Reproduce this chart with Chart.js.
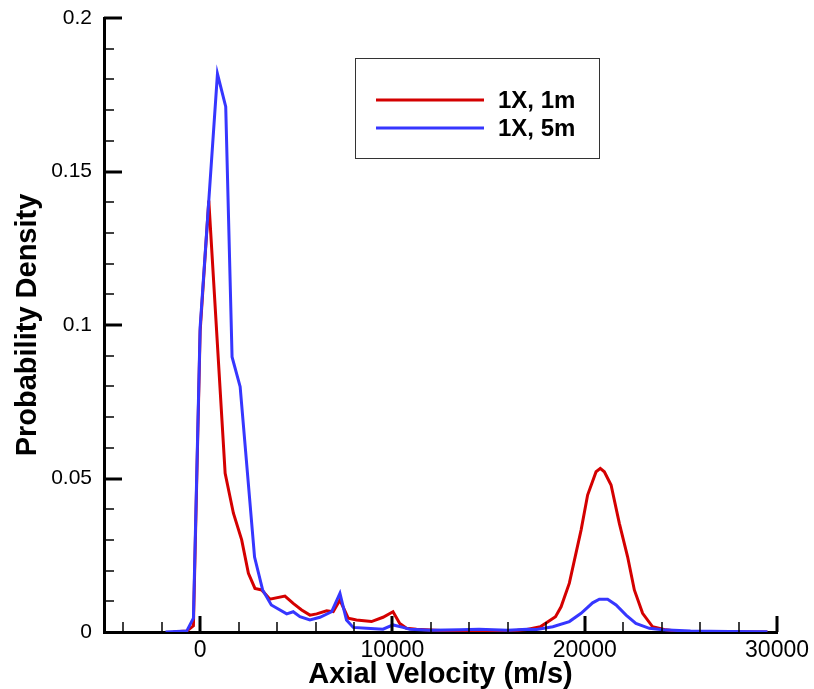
<!DOCTYPE html>
<html><head><meta charset="utf-8">
<script src="https://cdn.jsdelivr.net/npm/chart.js@4/dist/chart.umd.min.js"></script>
<style>html,body{margin:0;padding:0;background:#fff;}#wrap{width:814px;height:689px;}</style>
</head><body><div id="wrap"><canvas id="c" width="814" height="689"></canvas></div>
<script>
const seriesLabels = ['1X, 1m', '1X, 5m'];
const xTitle = 'Axial Velocity (m/s)';
const yTitle = 'Probability Density';

const redX = [-1400, -700, -350, 0, 450, 1300, 1730, 2160, 2510, 2850, 3200, 3630, 4410, 4840, 5280, 5710, 6060, 6580, 6920, 7270, 7700, 8130, 8910, 9510, 10030, 10380, 10730, 11250, 12500, 14000, 15500, 16500, 17000, 17690, 18480, 18770, 19200, 19810, 20150, 20590, 20810, 21020, 21370, 21800, 22230, 22580, 23010, 23530, 24220, 24910, 26000, 27500, 29500];
const redY = [0, 0.0003, 0.002, 0.098, 0.1405, 0.0517, 0.0387, 0.030, 0.0191, 0.0142, 0.0137, 0.0107, 0.0117, 0.0093, 0.0072, 0.0055, 0.0059, 0.0069, 0.0066, 0.0104, 0.0045, 0.0039, 0.0034, 0.0048, 0.0066, 0.0028, 0.0012, 0.0009, 0.0005, 0.0004, 0.0005, 0.0006, 0.0008, 0.0017, 0.005, 0.0082, 0.0159, 0.0332, 0.0446, 0.0522, 0.0533, 0.0522, 0.0479, 0.0354, 0.0245, 0.0137, 0.0061, 0.0017, 0.0007, 0.0002, 0.0001, 0.0001, 0];

const blueX = [-1800, -700, -350, 0, 900, 1330, 1660, 2080, 2830, 3250, 3700, 4500, 4840, 5190, 5710, 6230, 6840, 7270, 7610, 7960, 8650, 9510, 10030, 10550, 10900, 12000, 13500, 14500, 16000, 17000, 17500, 18340, 19200, 19810, 20410, 20760, 21190, 21630, 22150, 22660, 23360, 24050, 25500, 27500, 29500];
const blueY = [0, 0.0003, 0.0045, 0.0993, 0.1818, 0.1711, 0.0896, 0.0799, 0.0244, 0.0137, 0.0088, 0.0059, 0.0066, 0.005, 0.0039, 0.0048, 0.0066, 0.0126, 0.0039, 0.0015, 0.0012, 0.0009, 0.0023, 0.0015, 0.0009, 0.0006, 0.0007, 0.0009, 0.0006, 0.0009, 0.0008, 0.0017, 0.0034, 0.0061, 0.0095, 0.0107, 0.0107, 0.0088, 0.0055, 0.0028, 0.0012, 0.0007, 0.0003, 0.0002, 0.0001];

const xMajorTicks = [0, 10000, 20000, 30000];
const yMajorTicks = [0, 0.05, 0.1, 0.15, 0.2];
const xMinorStep = 2000;
const yMinorStep = 0.01;

const RED = '#d40000';
const BLUE = '#3636ff';
const FONT = "'Liberation Sans', Arial, Helvetica, sans-serif";

function pts(xs, ys) { return xs.map((x, i) => ({x: x, y: ys[i]})); }

const tickPlugin = {
  id: 'inwardTicks',
  afterDraw(chart) {
    const ctx = chart.ctx, xs = chart.scales.x, ys = chart.scales.y;
    const a = chart.chartArea;
    ctx.save();
    ctx.strokeStyle = '#000';
    for (let v = Math.ceil(xs.min / xMinorStep) * xMinorStep; v <= xs.max + 1e-6; v += xMinorStep) {
      const major = xMajorTicks.includes(v);
      if (v <= xs.min) continue;
      const px = Math.round(xs.getPixelForValue(v));
      ctx.lineWidth = major ? 3 : 1.5;
      ctx.beginPath();
      ctx.moveTo(px, a.bottom);
      ctx.lineTo(px, a.bottom - (major ? 16 : 10));
      ctx.stroke();
    }
    const n = Math.round((ys.max - ys.min) / yMinorStep);
    for (let i = 1; i <= n; i++) {
      const v = ys.min + i * yMinorStep;
      const major = yMajorTicks.some(t => Math.abs(t - v) < 1e-9);
      const py = Math.round(ys.getPixelForValue(v));
      ctx.lineWidth = major ? 3 : 1.5;
      ctx.beginPath();
      ctx.moveTo(a.left, py);
      ctx.lineTo(a.left + (major ? 18 : 10), py);
      ctx.stroke();
    }
    const bx = 355, by = 58, bw = 244, bh = 100;
    ctx.fillStyle = '#fff';
    ctx.fillRect(bx, by, bw, bh);
    ctx.lineWidth = 1;
    ctx.strokeStyle = '#333';
    ctx.strokeRect(bx + 0.5, by + 0.5, bw, bh);
    const rows = [100, 128];
    chart.data.datasets.forEach((ds, i) => {
      ctx.strokeStyle = ds.borderColor;
      ctx.lineWidth = 3;
      ctx.beginPath();
      ctx.moveTo(376, rows[i]);
      ctx.lineTo(484, rows[i]);
      ctx.stroke();
      ctx.fillStyle = '#000';
      ctx.font = 'bold 24px ' + FONT;
      ctx.textBaseline = 'middle';
      ctx.textAlign = 'left';
      ctx.fillText(ds.label, 498, rows[i] + 1);
    });
    ctx.restore();
  }
};

new Chart(document.getElementById('c'), {
  type: 'line',
  data: {
    datasets: [
      {label: seriesLabels[0], data: pts(redX, redY), borderColor: RED, borderWidth: 3, pointRadius: 0, tension: 0, fill: false, order: 1},
      {label: seriesLabels[1], data: pts(blueX, blueY), borderColor: BLUE, borderWidth: 3, pointRadius: 0, tension: 0, fill: false, order: 0}
    ]
  },
  options: {
    responsive: false,
    animation: false,
    devicePixelRatio: 1,
    layout: {padding: {top: 18, right: 36, bottom: 0, left: 0}},
    plugins: {legend: {display: false}, tooltip: {enabled: false}},
    scales: {
      x: {
        type: 'linear', min: -5000, max: 30000, z: 1,
        afterBuildTicks: s => { s.ticks = xMajorTicks.map(v => ({value: v})); },
        afterFit: s => { s.height = 57; },
        grid: {display: false, drawTicks: false},
        border: {display: true, color: '#000', width: 3},
        ticks: {color: '#000', font: {family: FONT, size: 23}, padding: 5, maxRotation: 0, autoSkip: false, callback: v => String(v)},
        title: {display: true, text: xTitle, color: '#000', font: {family: FONT, size: 29, weight: 'bold', lineHeight: 1}, padding: {top: 0, bottom: 0}}
      },
      y: {
        type: 'linear', min: 0, max: 0.2, z: 1,
        afterBuildTicks: s => { s.ticks = yMajorTicks.map(v => ({value: v})); },
        afterFit: s => { s.width = 104; s.paddingTop = 12; s.paddingBottom = 12; },
        grid: {display: false, drawTicks: false},
        border: {display: true, color: '#000', width: 3},
        ticks: {color: '#000', font: {family: FONT, size: 21}, padding: 12, autoSkip: false, callback: v => String(v)},
        title: {display: true, text: yTitle, color: '#000', font: {family: FONT, size: 29, weight: 'bold', lineHeight: 1}, padding: {top: 13, bottom: 0}}
      }
    }
  },
  plugins: [tickPlugin]
});
</script></body></html>
